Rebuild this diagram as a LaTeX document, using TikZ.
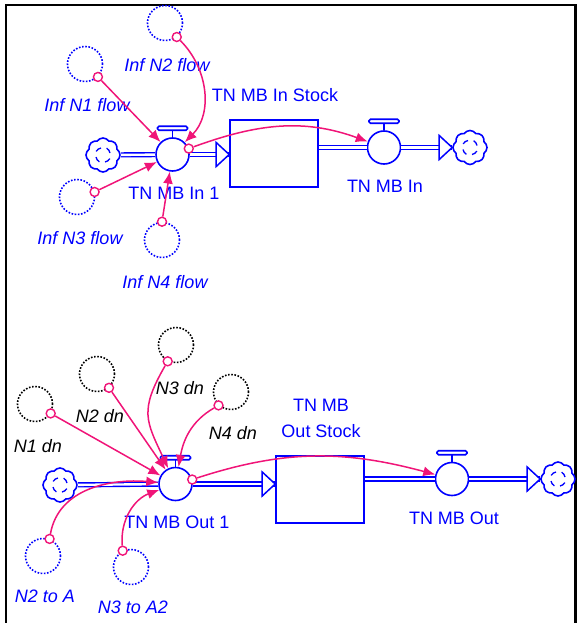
\documentclass[tikz,border=0pt]{standalone}
\usepackage{fontspec}
\setmainfont{Liberation Sans}
\usetikzlibrary{arrows.meta,shapes.symbols}
\definecolor{sdBlue}{RGB}{0,0,255}
\definecolor{sdPink}{RGB}{240,20,120}

\begin{document}
\begin{tikzpicture}
[x=1pt,y=-1pt,
font=\fontsize{18}{26}\selectfont,
stock/.style={rectangle,draw=sdBlue,line width=1.6pt,minimum width=88pt,minimum height=67pt,inner sep=0pt},
valve/.style={circle,draw=sdBlue,line width=1.6pt,minimum size=33pt,inner sep=0pt},
valveTop/.style={draw=sdBlue,line width=1.6pt,rounded corners=1.5pt},
cloudIcon/.style={cloud,cloud puffs=8,cloud puff arc=110,aspect=1,draw=sdBlue,line width=1.6pt,fill=white,minimum size=34pt,inner sep=0pt,
  path picture={\draw[sdBlue,line width=1.3pt]
    ([shift={(7pt,2pt)}]path picture bounding box.center) arc[start angle=10,end angle=60,radius=7pt]
    ([shift={(-2pt,7pt)}]path picture bounding box.center) arc[start angle=100,end angle=150,radius=7pt]
    ([shift={(-7pt,-2pt)}]path picture bounding box.center) arc[start angle=190,end angle=240,radius=7pt]
    ([shift={(2pt,-7pt)}]path picture bounding box.center) arc[start angle=280,end angle=330,radius=7pt];}},
pipe/.style={draw=sdBlue,line width=1.4pt,double=white,double distance=2.4pt},
pipeHead/.style={draw=sdBlue,line width=1.5pt,fill=white,line join=miter},
auxBlue/.style={circle,draw=sdBlue,line width=1.6pt,dash pattern=on 1.6pt off 1.6pt,minimum size=35pt,inner sep=0pt},
auxBlack/.style={auxBlue,draw=black},
pin/.style={circle,draw=sdPink,line width=1.4pt,fill=white,minimum size=9pt,inner sep=0pt},
link/.style={draw=sdPink,line width=1.5pt,->,>={Latex[length=12pt,width=10pt]}},
flowLabel/.style={text=sdBlue},
auxLabel/.style={text=sdBlue,font=\fontsize{18}{22}\selectfont\itshape},
dnLabel/.style={auxLabel,text=black},
]
\useasboundingbox (0,0) rectangle (578,623);
\draw[line width=2.5pt] (6,623) -- (6,5) -- (575.5,5) -- (575.5,623);

% upper chain
\node[cloudIcon] (cloudInL) at (103,155) {};
\node[valve] (valveIn1) at (172.5,154.5) {};
\node[stock] (stockIn) at (274,153.5) {};
\node[valve] (valveIn) at (384,147.5) {};
\node[cloudIcon] (cloudInR) at (470,147.5) {};
\draw[pipe] (cloudInL) -- (valveIn1);
\draw[pipe] (valveIn1) -- (stockIn.west |- valveIn1);
\draw[pipeHead] (stockIn.west |- valveIn1) -- ++(-13,-12) -- ++(0,24) -- cycle;
\draw[pipe] (stockIn.east |- valveIn) -- (valveIn);
\draw[pipe] (valveIn) -- (cloudInR);
\draw[pipeHead] (cloudInR.west) -- ++(-13,-12) -- ++(0,24) -- cycle;
\draw[valveTop] (valveIn1.north) -- ++(0,-7);
\draw[valveTop,fill=white] ([shift={(-15pt,7pt)}]valveIn1.north) rectangle ++(30,-4);
\draw[valveTop] (valveIn.north) -- ++(0,-7);
\draw[valveTop,fill=white] ([shift={(-15pt,7pt)}]valveIn.north) rectangle ++(30,-4);
\node[flowLabel] (lblStockIn) at (275,95) {TN MB In Stock};
\node[flowLabel] (lblIn1) at (174,193) {TN MB In 1};
\node[flowLabel] (lblIn) at (385,186) {TN MB In};

\node[auxBlue] (auxN1flow) at (85,64) {};
\node[auxBlue] (auxN2flow) at (165,23) {};
\node[auxBlue] (auxN3flow) at (77,197) {};
\node[auxBlue] (auxN4flow) at (162,240) {};
\node[auxLabel] (lblN1flow) at (87,105) {Inf N1 flow};
\node[auxLabel] (lblN2flow) at (167,65) {Inf N2 flow};
\node[auxLabel] (lblN3flow) at (80,238) {Inf N3 flow};
\node[auxLabel] (lblN4flow) at (165,282) {Inf N4 flow};
\node[pin] (pinN1flow) at (auxN1flow.-45) {};
\node[pin] (pinN2flow) at (auxN2flow.-50) {};
\node[pin] (pinN3flow) at (auxN3flow.16) {};
\node[pin] (pinN4flow) at (auxN4flow.90) {};
\node[pin] (pinIn1) at (valveIn1.20) {};
\draw[link] (pinN1flow) -- (valveIn1);
\draw[link] (pinN2flow) to[out=-45,in=45] (valveIn1);
\draw[link] (pinN3flow) -- (valveIn1);
\draw[link] (pinN4flow) -- (valveIn1);
\draw[link] (pinIn1) to[out=20,in=160] (valveIn);

% lower chain
\node[cloudIcon] (cloudOutL) at (60,485) {};
\node[valve] (valveOut1) at (175.5,484) {};
\node[stock] (stockOut) at (320,489.5) {};
\node[valve] (valveOut) at (452,479) {};
\node[cloudIcon] (cloudOutR) at (558,479) {};
\draw[pipe] (cloudOutL) -- (valveOut1);
\draw[pipe] (valveOut1) -- (stockOut.west |- valveOut1);
\draw[pipeHead] (stockOut.west |- valveOut1) -- ++(-13,-12) -- ++(0,24) -- cycle;
\draw[pipe] (stockOut.east |- valveOut) -- (valveOut);
\draw[pipe] (valveOut) -- (cloudOutR);
\draw[pipeHead] (cloudOutR.west) -- ++(-13,-12) -- ++(0,24) -- cycle;
\draw[valveTop] (valveOut1.north) -- ++(0,-7);
\draw[valveTop,fill=white] ([shift={(-15pt,7pt)}]valveOut1.north) rectangle ++(30,-4);
\draw[valveTop] (valveOut.north) -- ++(0,-7);
\draw[valveTop,fill=white] ([shift={(-15pt,7pt)}]valveOut.north) rectangle ++(30,-4);
\node[flowLabel,align=center] (lblStockOut) at (321,418) {TN MB\\Out Stock};
\node[flowLabel] (lblOut1) at (177,522) {TN MB Out 1};
\node[flowLabel] (lblOut) at (454,518) {TN MB Out};

\node[auxBlack] (auxN1dn) at (35,404) {};
\node[auxBlack] (auxN2dn) at (97,374) {};
\node[auxBlack] (auxN3dn) at (176,345) {};
\node[auxBlack] (auxN4dn) at (231,392) {};
\node[auxBlue] (auxN2toA) at (43,556) {};
\node[auxBlue] (auxN3toA2) at (131,567) {};
\node[dnLabel] (lblN1dn) at (38,446) {N1 dn};
\node[dnLabel] (lblN2dn) at (100,416) {N2 dn};
\node[dnLabel] (lblN3dn) at (180,388) {N3 dn};
\node[dnLabel] (lblN4dn) at (233,433) {N4 dn};
\node[auxLabel] (lblN2toA) at (45,596) {N2 to A};
\node[auxLabel] (lblN3toA2) at (133,607) {N3 to A2};
\node[pin] (pinN1dn) at (auxN1dn.-31) {};
\node[pin] (pinN2dn) at (auxN2dn.-49) {};
\node[pin] (pinN3dn) at (auxN3dn.-117) {};
\node[pin] (pinN4dn) at (auxN4dn.-133) {};
\node[pin] (pinN2toA) at (auxN2toA.69) {};
\node[pin] (pinN3toA2) at (auxN3toA2.117) {};
\node[pin] (pinOut1) at (valveOut1.15) {};
\draw[link] (pinN1dn) -- (valveOut1);
\draw[link] (pinN2dn) -- (valveOut1);
\draw[link] (pinN3dn) to[out=-120,in=115,looseness=1.3] (valveOut1);
\draw[link] (pinN4dn) to[out=-150,in=80] (valveOut1);
\draw[link] (pinN2toA) to[out=80,in=175] (valveOut1);
\draw[link] (pinN3toA2) to[out=95,in=200] (valveOut1);
\draw[link] (pinOut1) to[out=18,in=165] (valveOut);
\end{tikzpicture}
\end{document}
